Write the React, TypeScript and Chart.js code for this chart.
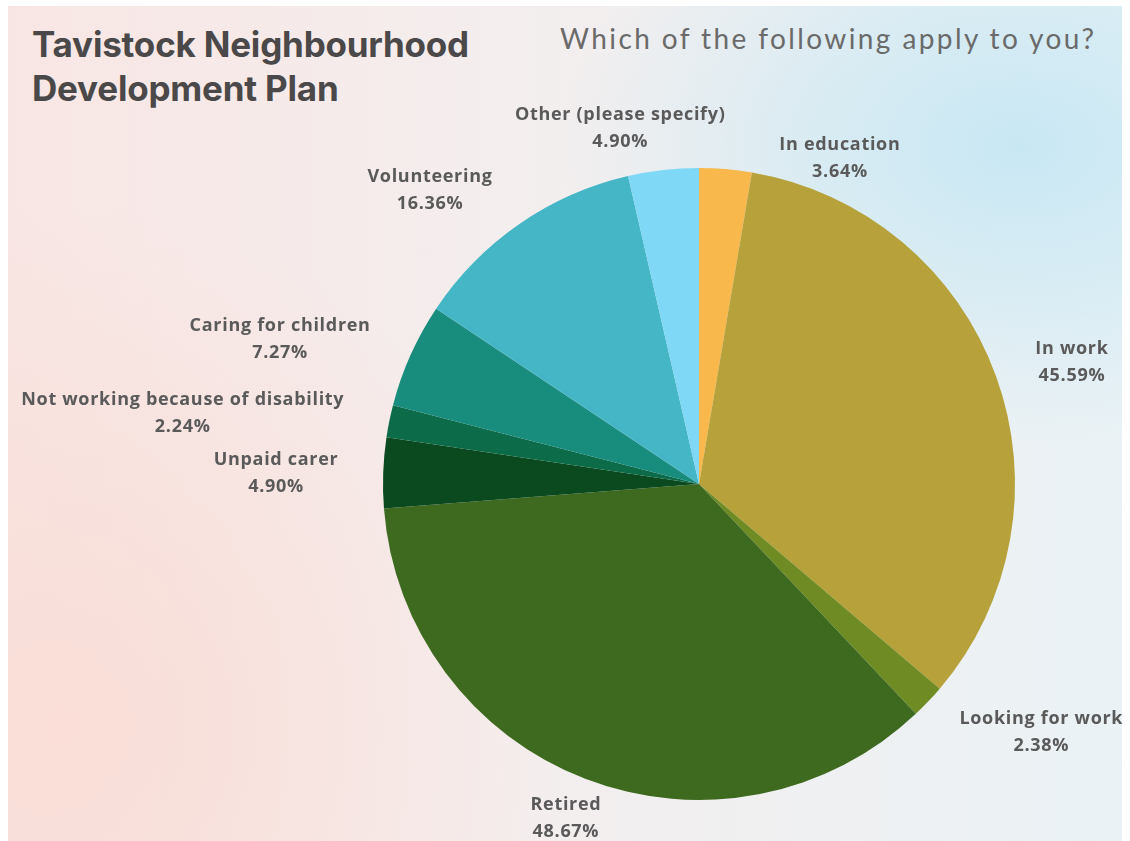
import React, { useEffect, useRef } from "react";
import { Chart, registerables } from "chart.js";

Chart.register(...registerables);

const categories = [
  "In education",
  "In work",
  "Looking for work",
  "Retired",
  "Unpaid carer",
  "Not working because of disability",
  "Caring for children",
  "Volunteering",
  "Other (please specify)",
];
const values = [3.64, 45.59, 2.38, 48.67, 4.9, 2.24, 7.27, 16.36, 4.9];
const valueLabels = ["3.64%", "45.59%", "2.38%", "48.67%", "4.90%", "2.24%", "7.27%", "16.36%", "4.90%"];
const colors = [
  "#F8B84C",
  "#B6A13A",
  "#6F8C24",
  "#3E6A1F",
  "#0A4A1E",
  "#0C6B49",
  "#188C7D",
  "#45B6C5",
  "#7FD8F6",
];
// label placement: [angle from top clockwise in degrees, distance as multiple of radius]
const labelLayout: [number, number][] = [
  [23.4, 1.123],
  [72, 1.241],
  [126, 1.339],
  [201.7, 1.139],
  [271.5, 1.339],
  [277.8, 1.649],
  [289, 1.402],
  [317.5, 1.26],
  [347.5, 1.152],
];

const labelPlugin = {
  id: "outerLabels",
  afterDraw(chart: any) {
    const meta = chart.getDatasetMeta(0);
    const ctx = chart.ctx;
    ctx.save();
    ctx.font = "bold 18px 'Open Sans'";
    try {
      (ctx as any).letterSpacing = "0.7px";
    } catch (e) {}
    ctx.fillStyle = "#5a5a5a";
    ctx.textAlign = "center";
    ctx.textBaseline = "middle";
    meta.data.forEach((arc: any, i: number) => {
      const [deg, f] = labelLayout[i];
      const a = (deg * Math.PI) / 180;
      const r = arc.outerRadius * f;
      const x = arc.x + r * Math.sin(a);
      const y = arc.y - r * Math.cos(a);
      ctx.fillText(categories[i], x, y - 13.5);
      ctx.fillText(valueLabels[i], x, y + 13.5);
    });
    ctx.restore();
  },
};

export default function App() {
  const ref = useRef<HTMLCanvasElement>(null);
  useEffect(() => {
    document.body.style.margin = "0";
    const chart = new Chart(ref.current!, {
      type: "pie",
      data: {
        labels: categories,
        datasets: [
          {
            data: values,
            backgroundColor: colors,
            borderWidth: 0,
          },
        ],
      },
      options: {
        animation: false,
        responsive: false,
        layout: { padding: { top: 168, bottom: 41, left: 383, right: 115 } },
        plugins: {
          legend: { display: false },
          tooltip: { enabled: false },
        },
      },
      plugins: [labelPlugin],
    });
    return () => chart.destroy();
  }, []);

  return (
    <div style={{ position: "fixed", left: 0, top: 0, width: 1130, height: 841, background: "#ffffff", overflow: "hidden" }}>
      <div
        style={{
          position: "absolute",
          left: 8,
          top: 6,
          width: 1114,
          height: 835,
          background:
            "radial-gradient(ellipse 460px 300px at 1010px 140px, rgba(198,231,244,0.95), rgba(198,231,244,0) 100%), radial-gradient(ellipse 500px 520px at 60px 720px, rgba(250,220,212,0.85), rgba(250,220,212,0) 100%), linear-gradient(90deg, #f8e6e4 0%, #f4eeee 45%, #eaf2f5 100%)",
        }}
      />
      <div
        style={{
          position: "absolute",
          left: 32,
          top: 22,
          fontFamily: "Inter, sans-serif",
          fontWeight: 700,
          fontSize: 35,
          lineHeight: "44px",
          color: "#4a4848",
          letterSpacing: "-0.2px",
          whiteSpace: "nowrap",
        }}
      >
        Tavistock Neighbourhood
        <br />
        Development Plan
      </div>
      <div
        style={{
          position: "absolute",
          left: 560,
          top: 20,
          fontFamily: "Lato, sans-serif",
          fontWeight: 400,
          fontSize: 28,
          lineHeight: "36px",
          letterSpacing: "2.4px",
          color: "#6a6a6a",
          whiteSpace: "nowrap",
        }}
      >
        Which of the following apply to you?
      </div>
      <canvas ref={ref} width={1130} height={841} style={{ position: "absolute", left: 0, top: 0, width: 1130, height: 841 }} />
    </div>
  );
}
